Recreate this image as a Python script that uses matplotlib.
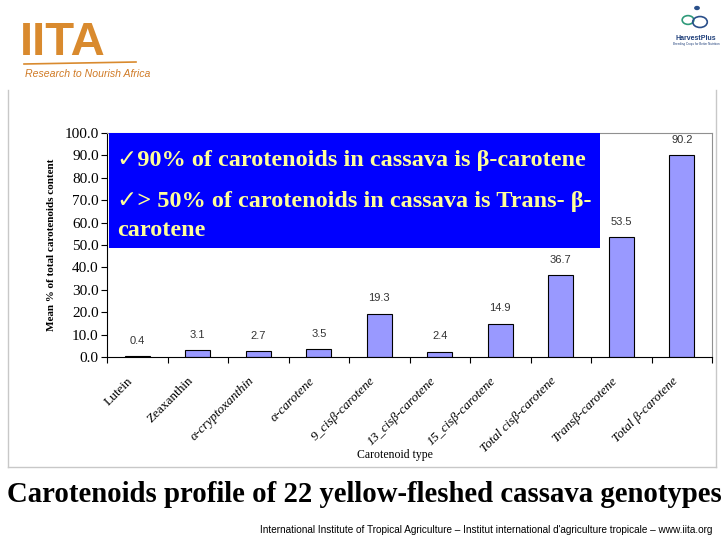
import matplotlib.pyplot as plt
from matplotlib.patches import Rectangle, Circle
from matplotlib.lines import Line2D

# chart data
categories = ['Lutein', 'Zeaxanthin', 'α-cryptoxanthin', 'α-carotene',
              '9_cisβ-carotene', '13_cisβ-carotene', '15_cisβ-carotene',
              'Total cisβ-carotene', 'Transβ-carotene', 'Total β-carotene']
values = [0.4, 3.1, 2.7, 3.5, 19.3, 2.4, 14.9, 36.7, 53.5, 90.2]
yticks = [0, 10, 20, 30, 40, 50, 60, 70, 80, 90, 100]

box_lines = ['✓90% of carotenoids in cassava is β-carotene',
             '✓> 50% of carotenoids in cassava is Trans- β-',
             'carotene']
title = 'Carotenoids profile of 22 yellow-fleshed cassava genotypes'
footer = ('International Institute of Tropical Agriculture – Institut international '
          'd\'agriculture tropicale – www.iita.org')

serif = ['Liberation Serif', 'DejaVu Serif', 'DejaVu Sans']
sans = ['Liberation Sans', 'DejaVu Sans']

W, H = 728, 546
fig = plt.figure(figsize=(W / 100, H / 100), dpi=100)


def fx(px):
    return px / W


def fy(py):
    return 1 - py / H


# outer chart frame (no top line)
for xs, ys in [((8, 8), (90, 467)), ((8, 716), (467, 467)), ((716, 716), (90, 467))]:
    fig.add_artist(Line2D([fx(x) for x in xs], [fy(y) for y in ys],
                          color='#c8c8c8', lw=1))

ax = fig.add_axes([fx(107), fy(357), fx(712) - fx(107), (357 - 133) / H])
x = list(range(len(categories)))
ax.bar(x, values, width=0.41, color='#9999ff', edgecolor='black', linewidth=0.8, zorder=2)
for xi, v in zip(x, values):
    ax.annotate(f'{v:.1f}', (xi, v), xytext=(0, 11), textcoords='offset points',
                ha='center', va='center', fontsize=8, color='#333333', family=sans)

ax.set_xlim(-0.5, len(categories) - 0.5)
ax.set_ylim(0, 100)
ax.set_yticks(yticks)
ax.set_yticklabels([f'{t:.1f}' for t in yticks], family=serif, fontsize=11)
ax.set_xticks([i + 0.5 for i in range(-1, len(categories))])
ax.set_xticklabels([])
ax.tick_params(axis='x', direction='out', length=4, width=0.8)
ax.tick_params(axis='y', direction='out', length=4, width=0.8, pad=2)
for i, lab in enumerate(categories):
    style = 'normal' if i < 2 else 'italic'
    ax.text(i - 0.17, -8, lab, rotation=45, rotation_mode='anchor', ha='right', va='top',
            fontsize=9.5, family=serif, style=style, transform=ax.transData)
ax.spines['top'].set_color('#909090')
ax.spines['right'].set_color('#909090')
ax.spines['left'].set_linewidth(0.8)
ax.spines['bottom'].set_linewidth(0.8)

fig.text(fx(52), fy(245), 'Mean % of total carotenoids content', rotation=90,
         ha='center', va='center', fontsize=8, fontweight='bold', family=serif)
fig.text(fx(395), fy(455), 'Carotenoid type', ha='center', va='center',
         fontsize=8.5, family=serif)

# blue highlight box
ax.add_patch(Rectangle((0.003, 0.487), 0.812, 0.513, transform=ax.transAxes,
                       facecolor='#0000ff', edgecolor='none', zorder=5, clip_on=False))
for txt, yy in zip(box_lines, [0.879, 0.696, 0.5625]):
    ax.text(0.0165, yy, txt, transform=ax.transAxes, ha='left', va='center',
            fontsize=17.5, fontweight='bold', color='#ffff99', family=serif, zorder=6)

# title and footer
fig.text(fx(364), fy(495), title, ha='center', va='center', fontsize=20.7,
         fontweight='bold', family=serif)
fig.text(fx(712), fy(530), footer, ha='right', va='center', fontsize=7.2, family=sans)

# IITA logo
fig.text(fx(20), fy(43), 'IITA', ha='left', va='center', fontsize=34, fontweight='bold',
         color='#d98a2e', family=sans)
fig.add_artist(Line2D([fx(24), fx(136)], [fy(64), fy(62)], color='#d98a2e', lw=1.2))
fig.text(fx(25), fy(74), 'Research to Nourish Africa', ha='left', va='center',
         fontsize=7.6, style='italic', color='#d07a25', family=sans)

# HarvestPlus logo
fig.add_artist(Circle((fx(688), fy(20)), 0.008, transform=fig.transFigure,
                      fill=False, edgecolor='#2f9a7a', lw=1.2))
fig.add_artist(Circle((fx(700), fy(22)), 0.010, transform=fig.transFigure,
                      fill=False, edgecolor='#2a4f8a', lw=1.2))
fig.add_artist(Circle((fx(697), fy(8)), 0.004, transform=fig.transFigure,
                      facecolor='#2a4f8a', edgecolor='none'))
fig.text(fx(696), fy(38), 'HarvestPlus', ha='center', va='center', fontsize=5,
         fontweight='bold', color='#1f3f7a', family=sans)
fig.text(fx(696), fy(44), 'Breeding Crops for Better Nutrition', ha='center', va='center',
         fontsize=2.2, color='#1f3f7a', family=sans)

fig.savefig('out.png', dpi=100)
